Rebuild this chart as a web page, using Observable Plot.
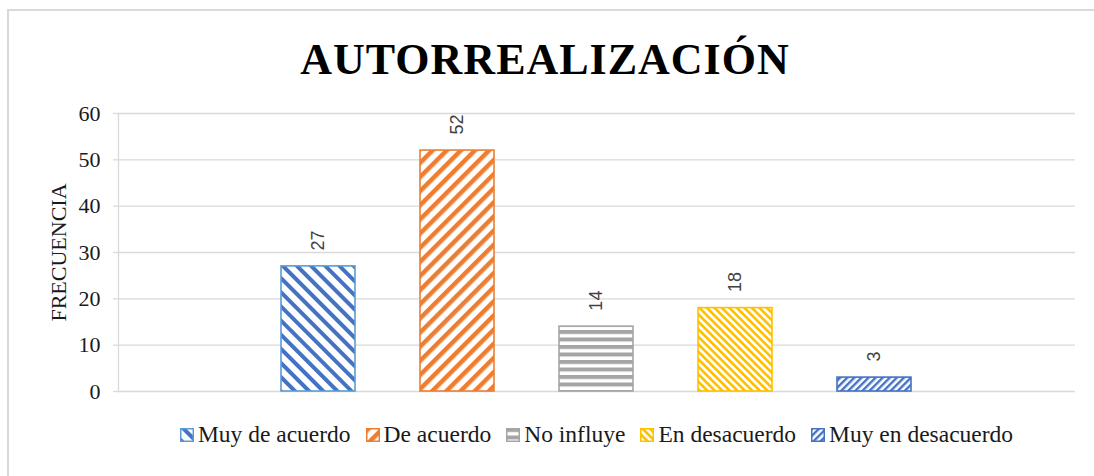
<!DOCTYPE html>
<html>
<head>
<meta charset="utf-8">
<script src="https://cdn.jsdelivr.net/npm/d3@7"></script>
<script src="https://cdn.jsdelivr.net/npm/@observablehq/plot@0.6"></script>
<style>
  html, body { margin: 0; padding: 0; background: #fff; }
  #wrap { position: relative; width: 1094px; height: 476px; overflow: hidden; background: #fff; }
  #frame { position: absolute; left: 7px; top: 9px; width: 1200px; height: 600px;
           border-left: 2px solid #d9d9d9; border-top: 2px solid #d9d9d9; }
  #chart { position: absolute; left: 0; top: 0; }
  #title { position: absolute; left: 0; width: 1090px; top: 38px; text-align: center;
           font-family: "Liberation Serif", "Times New Roman", serif; font-weight: bold;
           font-size: 44px; line-height: 1; letter-spacing: 1px; color: #000; white-space: nowrap; }
  #legend { position: absolute; left: 118px; width: 957px; top: 423px; display: flex;
            justify-content: center; align-items: center;
            font-family: "Liberation Serif", "Times New Roman", serif; font-size: 23.5px;
            line-height: 1; color: #1a1a1a; white-space: nowrap; }
  .item { display: inline-flex; align-items: center; margin: 0 7.5px; }
  .item svg { margin-right: 4px; }
  #defs { position: absolute; width: 0; height: 0; }
</style>
</head>
<body>
<div id="wrap">
  <svg id="defs" width="0" height="0"><defs id="defsInner"></defs></svg>
  <div id="frame"></div>
  <div id="chart"></div>
  <div id="title">AUTORREALIZACIÓN</div>
  <div id="legend"></div>
</div>
<script>
// ---- data ----
const categories = ["Muy de acuerdo", "De acuerdo", "No influye", "En desacuerdo", "Muy en desacuerdo"];
const values = [27, 52, 14, 18, 3];
const yTicks = [0, 10, 20, 30, 40, 50, 60];
const titleText = "AUTORREALIZACIÓN";
const yLabel = "FRECUENCIA";

// ---- styles ----
const hatchColors = ["#4472C4", "#ED7D31", "#A5A5A5", "#FFC000", "#4472C4"];
const borderColors = ["#5B9BD5", "#ED7D31", "#A5A5A5", "#FFC000", "#4472C4"];
const hatchAngles = [-45, 45, 90, -45, 45];
const hatchPeriods = [10, 10, 7.5, 5.3, 5];
const hatchThickness = [4, 4.5, 4, 2.6, 2.4];

// ---- patterns ----
const NS = "http://www.w3.org/2000/svg";
const defs = document.getElementById("defsInner");
categories.forEach((c, i) => {
  const p = document.createElementNS(NS, "pattern");
  p.setAttribute("id", "hatch-" + i);
  p.setAttribute("patternUnits", "userSpaceOnUse");
  p.setAttribute("width", hatchPeriods[i]);
  p.setAttribute("height", hatchPeriods[i]);
  p.setAttribute("patternTransform", `rotate(${hatchAngles[i]})`);
  const bg = document.createElementNS(NS, "rect");
  bg.setAttribute("width", hatchPeriods[i]);
  bg.setAttribute("height", hatchPeriods[i]);
  bg.setAttribute("fill", "#fff");
  const st = document.createElementNS(NS, "rect");
  st.setAttribute("width", hatchThickness[i]);
  st.setAttribute("height", hatchPeriods[i]);
  st.setAttribute("fill", hatchColors[i]);
  p.appendChild(bg); p.appendChild(st);
  defs.appendChild(p);
});

const data = categories.map((c, i) => ({cat: c, value: values[i], idx: i}));

const chart = Plot.plot({
  width: 1094, height: 476,
  marginLeft: 118, marginRight: 19, marginTop: 113, marginBottom: 85,
  style: {background: "transparent", fontFamily: "'Liberation Serif', 'Times New Roman', serif", overflow: "visible"},
  x: {domain: categories, axis: null, paddingInner: 0.4676, paddingOuter: 1.176},
  y: {domain: [0, 60], ticks: yTicks},
  color: {type: "identity"},
  marks: [
    Plot.gridY(yTicks, {stroke: "#d9d9d9", strokeOpacity: 1, strokeWidth: 1.3}),
    Plot.frame({anchor: "left", stroke: "#d9d9d9", strokeWidth: 1.3}),
    Plot.axisY(yTicks, {tickSize: 5, tickPadding: 13, stroke: "#d9d9d9", strokeOpacity: 1, strokeWidth: 1.3,
                        fill: "#1a1a1a", fontSize: 22, label: null}),
    Plot.barY(data, {x: "cat", y: "value", fill: d => `url(#hatch-${d.idx})`,
                     stroke: d => borderColors[d.idx], strokeWidth: 1.6}),
    Plot.text(data, {x: "cat", y: "value", text: d => String(d.value), rotate: -90, textAnchor: "start",
                     dy: -16, fontSize: 18, fontFamily: "'Liberation Sans', Arial, sans-serif", fill: "#404040"}),
    Plot.text([yLabel], {frameAnchor: "left", textAnchor: "middle", dx: -60, rotate: -90, text: d => d,
                         fontSize: 22, fill: "#1a1a1a"})
  ]
});
document.getElementById("chart").appendChild(chart);
document.getElementById("title").textContent = titleText;

// ---- legend ----
const legend = document.getElementById("legend");
categories.forEach((c, i) => {
  const item = document.createElement("span");
  item.className = "item";
  const sw = document.createElementNS(NS, "svg");
  sw.setAttribute("width", 14); sw.setAttribute("height", 14);
  const r = document.createElementNS(NS, "rect");
  r.setAttribute("x", 0.75); r.setAttribute("y", 0.75);
  r.setAttribute("width", 12.5); r.setAttribute("height", 12.5);
  r.setAttribute("fill", `url(#hatch-${i})`);
  r.setAttribute("stroke", borderColors[i]);
  r.setAttribute("stroke-width", 1.5);
  sw.appendChild(r);
  const t = document.createElement("span");
  t.textContent = c;
  item.appendChild(sw); item.appendChild(t);
  legend.appendChild(item);
});
</script>
</body>
</html>
